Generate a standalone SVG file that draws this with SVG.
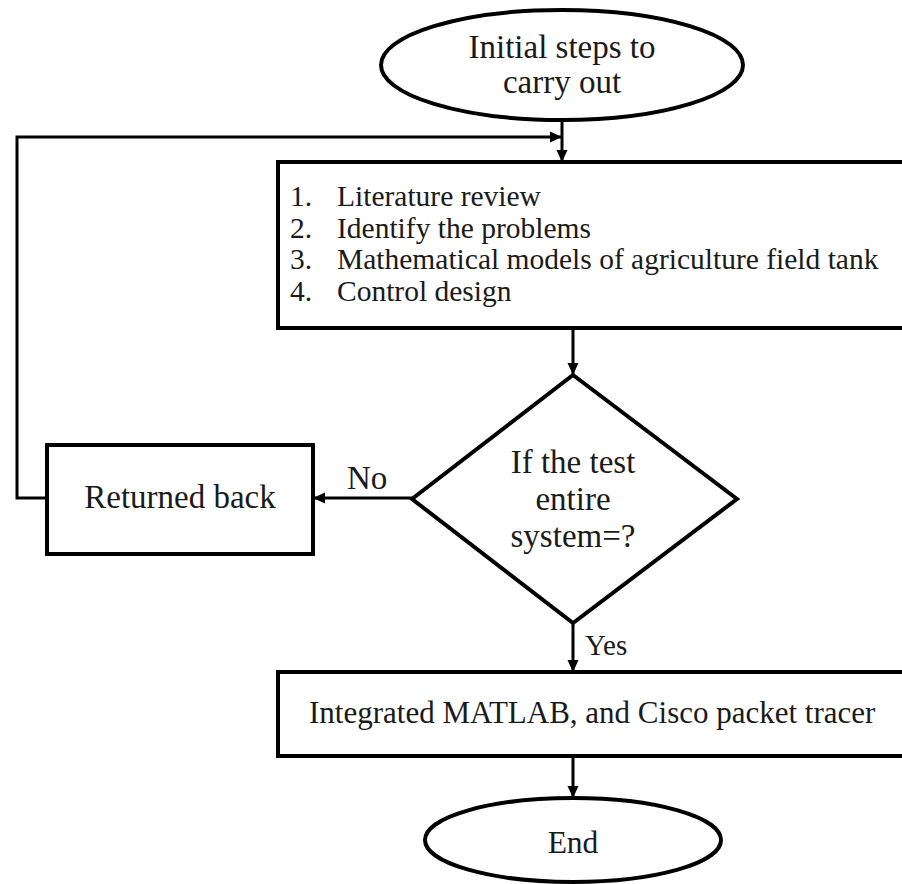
<svg xmlns="http://www.w3.org/2000/svg" width="902" height="884" viewBox="0 0 902 884">
<style>
.shape{fill:#fff;stroke:#000;stroke-width:4}
.conn{fill:none;stroke:#000;stroke-width:3}
text{font-family:"Liberation Serif","Times New Roman",serif;fill:#1a1a1a}
.c{text-anchor:middle}
</style>
<defs>
<marker id="arrow" markerUnits="userSpaceOnUse" markerWidth="12" markerHeight="12" viewBox="0 0 12 12" refX="11" refY="6" orient="auto">
<path d="M0,0.5 L12,6 L0,11.5 Z" fill="#000"/>
</marker>
</defs>
<rect width="902" height="884" fill="#fff"/>
<g id="connectors">
<line class="conn" x1="562" y1="120" x2="562" y2="161" marker-end="url(#arrow)"/>
<polyline class="conn" points="47,498 17,498 17,137 561,137" marker-end="url(#arrow)"/>
<line class="conn" x1="573" y1="329" x2="573" y2="374" marker-end="url(#arrow)"/>
<line class="conn" x1="412" y1="498" x2="314" y2="498" marker-end="url(#arrow)"/>
<line class="conn" x1="573" y1="623" x2="573" y2="671" marker-end="url(#arrow)"/>
<line class="conn" x1="573" y1="756" x2="573" y2="797" marker-end="url(#arrow)"/>
<text x="347" y="489" font-size="33">No</text>
<text x="585" y="655" font-size="29">Yes</text>
</g>
<g id="start">
<ellipse class="shape" cx="562" cy="65" rx="181" ry="55"/>
<text class="c" x="562" y="58" font-size="33">Initial steps to</text>
<text class="c" x="562" y="93" font-size="33">carry out</text>
</g>
<g id="steps">
<rect class="shape" x="278" y="162" width="640" height="166"/>
<text x="290" y="206" font-size="29.5">1.</text>
<text x="337" y="206" font-size="29.5">Literature review</text>
<text x="290" y="238" font-size="29.5">2.</text>
<text x="337" y="238" font-size="29.5">Identify the problems</text>
<text x="290" y="269" font-size="29.5">3.</text>
<text x="337" y="269" font-size="29.5">Mathematical models of agriculture field tank</text>
<text x="290" y="301" font-size="29.5">4.</text>
<text x="337" y="301" font-size="29.5">Control design</text>
</g>
<g id="decision">
<polygon class="shape" points="573,375 737,499 573,623 412,499"/>
<text class="c" x="573" y="473" font-size="33">If the test</text>
<text class="c" x="573" y="510" font-size="33">entire</text>
<text class="c" x="573" y="547" font-size="33">system=?</text>
</g>
<g id="returned">
<rect class="shape" x="47" y="445" width="266" height="109"/>
<text class="c" x="180" y="508" font-size="33">Returned back</text>
</g>
<g id="integrated">
<rect class="shape" x="278" y="672" width="640" height="84"/>
<text x="309" y="723" font-size="31">Integrated MATLAB, and Cisco packet tracer</text>
</g>
<g id="end">
<ellipse class="shape" cx="573" cy="840" rx="148" ry="42"/>
<text class="c" x="573" y="853" font-size="31.5">End</text>
</g>
</svg>
